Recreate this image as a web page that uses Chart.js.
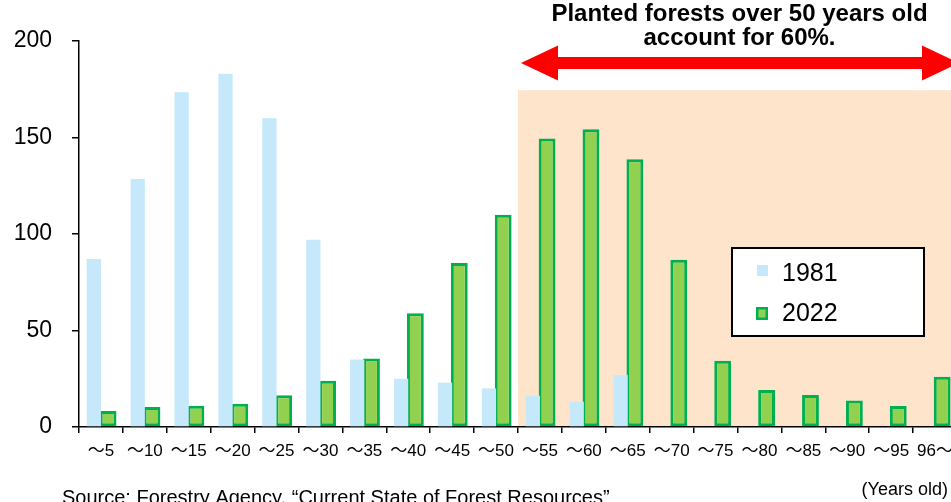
<!DOCTYPE html>
<html><head><meta charset="utf-8">
<script src="https://cdn.jsdelivr.net/npm/chart.js@4/dist/chart.umd.min.js"></script>
<style>
html,body{margin:0;padding:0;background:#fff;overflow:hidden;}
#wrap{position:relative;width:951px;height:502px;overflow:hidden;}
canvas{display:block;}
</style></head><body>
<div id="wrap"><canvas id="c" width="966" height="502"></canvas></div>
<script>
const categories = ['～5','～10','～15','～20','～25','～30','～35','～40','～45','～50','～55','～60','～65','～70','～75','～80','～85','～90','～95','96～'];
const values1981 = [87, 128.5, 173.5, 183, 160, 97, 35, 25, 23, 20, 16.2, 13.1, 27, 0, 0, 0, 0, 0, 0, 0];
const values2022 = [8.3, 10.3, 11, 12, 16.5, 24, 35.5, 59, 85, 110, 149.5, 154.3, 138.7, 86.6, 34.3, 19.2, 16.6, 13.7, 10.9, 26.1];
const yTicks = [0, 50, 100, 150, 200];
const seriesNames = ['1981', '2022'];
const highlightFromIndex = 10;
const highlightTop = 174.5;
const noteLines = ['Planted forests over 50 years old', 'account for 60%.'];
const sourceText = 'Source: Forestry Agency, “Current State of Forest Resources”';
const unitText = '(Years old)';

const FONT = '"Liberation Sans", Arial, "Noto Sans CJK JP", sans-serif';
const BLUE = '#C5E9FA';
const GREEN = '#92D050';
const GREEN_DARK = '#00B050';
const SHADE = '#FDE4CB';

const deco = {
  id: 'deco',
  beforeDraw(chart) {
    const {ctx, scales: {x, y}} = chart;
    const left = (x.getPixelForValue(highlightFromIndex - 1) + x.getPixelForValue(highlightFromIndex)) / 2;
    const top = y.getPixelForValue(highlightTop);
    const bottom = y.getPixelForValue(0);
    ctx.save();
    ctx.fillStyle = SHADE;
    ctx.fillRect(left, top, chart.width - left, bottom - top);
    ctx.restore();
  },
  afterDraw(chart) {
    const {ctx, scales: {x, y}, chartArea} = chart;
    const left = (x.getPixelForValue(highlightFromIndex - 1) + x.getPixelForValue(highlightFromIndex)) / 2;
    ctx.save();
    // arrow
    const ax1 = left + 3, ax2 = chartArea.right + 2, cy = 63, hl = 37, hh = 17.5, sh = 6;
    ctx.fillStyle = '#FF0000';
    ctx.beginPath();
    ctx.moveTo(ax1, cy);
    ctx.lineTo(ax1 + hl, cy - hh);
    ctx.lineTo(ax1 + hl, cy - sh);
    ctx.lineTo(ax2 - hl, cy - sh);
    ctx.lineTo(ax2 - hl, cy - hh);
    ctx.lineTo(ax2, cy);
    ctx.lineTo(ax2 - hl, cy + hh);
    ctx.lineTo(ax2 - hl, cy + sh);
    ctx.lineTo(ax1 + hl, cy + sh);
    ctx.lineTo(ax1 + hl, cy + hh);
    ctx.closePath();
    ctx.fill();
    // note text
    ctx.fillStyle = '#000';
    ctx.font = 'bold 24px ' + FONT;
    ctx.textAlign = 'center';
    ctx.textBaseline = 'middle';
    const tx = (left + chartArea.right) / 2 + 2;
    ctx.fillText(noteLines[0], tx, 14.5);
    ctx.fillText(noteLines[1], tx, 38.5);
    // legend
    const lx = 732, ly = 248, lw = 192, lh = 88;
    ctx.fillStyle = '#fff';
    ctx.fillRect(lx, ly, lw, lh);
    ctx.strokeStyle = '#000';
    ctx.lineWidth = 2;
    ctx.strokeRect(lx, ly, lw, lh);
    const ds = chart.data.datasets;
    ctx.fillStyle = ds[0].backgroundColor;
    ctx.fillRect(757, 265, 11, 11);
    ctx.fillStyle = ds[1].borderColor;
    ctx.fillRect(756, 307, 12, 13);
    ctx.fillStyle = ds[1].backgroundColor;
    ctx.fillRect(758.5, 309.5, 7, 8);
    ctx.fillStyle = '#000';
    ctx.font = '25px ' + FONT;
    ctx.textAlign = 'left';
    ctx.fillText(ds[0].label, 782, 274);
    ctx.fillText(ds[1].label, 782, 314);
    // source and unit
    ctx.font = '20px ' + FONT;
    ctx.textBaseline = 'alphabetic';
    ctx.fillText(sourceText, 62, 504);
    ctx.font = '18px ' + FONT;
    ctx.textAlign = 'right';
    ctx.textBaseline = 'middle';
    ctx.fillText(unitText, 948, 490);
    ctx.restore();
  }
};

new Chart(document.getElementById('c').getContext('2d'), {
  type: 'bar',
  data: {
    labels: categories,
    datasets: [
      {label: seriesNames[0], data: values1981, backgroundColor: BLUE, borderWidth: 0, barPercentage: 1.0, categoryPercentage: 0.65},
      {label: seriesNames[1], data: values2022, backgroundColor: GREEN, borderColor: GREEN_DARK, borderWidth: 3, borderSkipped: false, barPercentage: 1.18, categoryPercentage: 0.65}
    ]
  },
  options: {
    responsive: false,
    animation: false,
    devicePixelRatio: 1,
    layout: {padding: {top: 41, right: 9, left: 0, bottom: 0}},
    plugins: {legend: {display: false}, tooltip: {enabled: false}},
    scales: {
      x: {
        grid: {drawOnChartArea: false, tickLength: 6, color: '#000', lineWidth: 1.5, offset: true},
        border: {color: '#000', width: 1.5},
        ticks: {color: '#000', font: {family: FONT, size: 17}, padding: 8, maxRotation: 0, autoSkip: false},
        afterFit(s) { s.height = 75; }
      },
      y: {
        min: 0, max: 200,
        grid: {drawOnChartArea: false, tickLength: 7, color: '#000', lineWidth: 1.5},
        border: {color: '#000', width: 1.5},
        ticks: {color: '#000', font: {family: FONT, size: 23}, padding: 20},
        afterBuildTicks(s) { s.ticks = yTicks.map(v => ({value: v})); },
        afterFit(s) { s.width = 79; }
      }
    }
  },
  plugins: [deco]
});
</script>
</body></html>
